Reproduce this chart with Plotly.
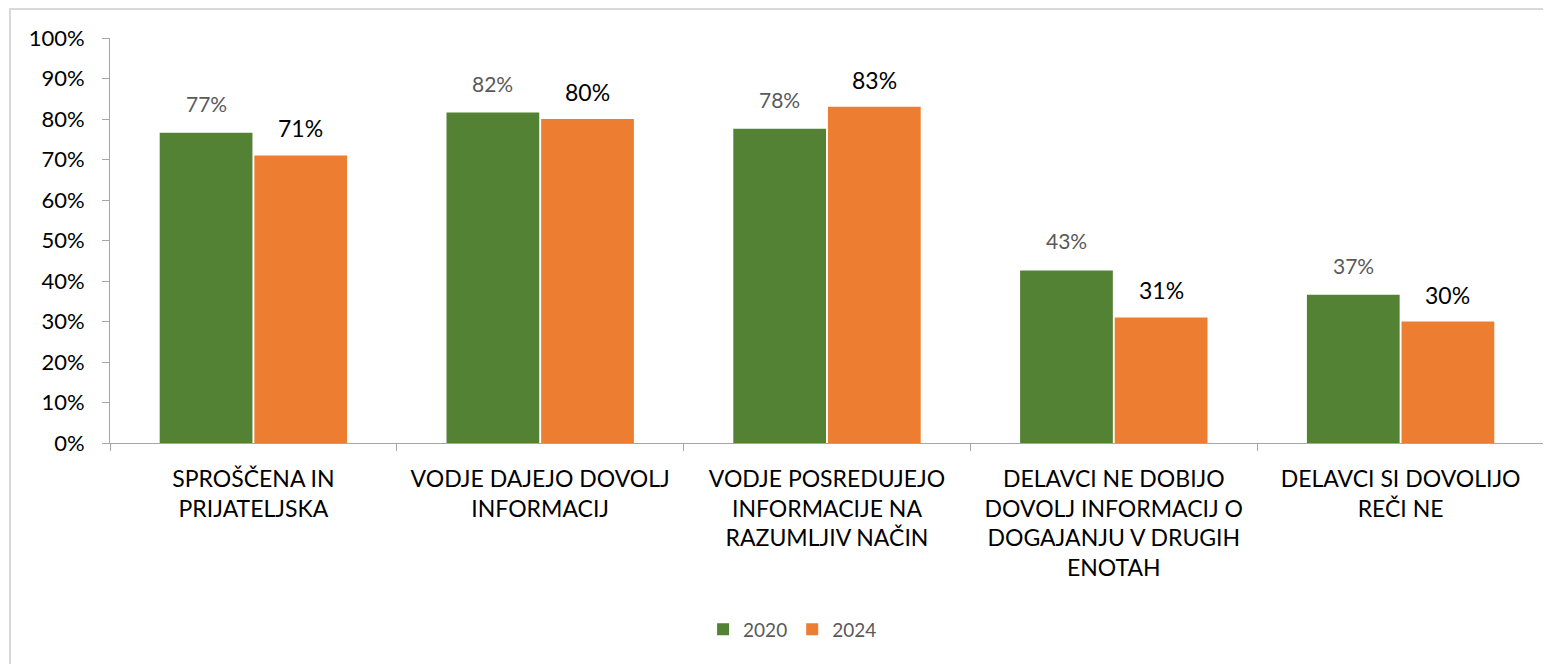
import plotly.graph_objects as go

categories = [
    "SPROŠČENA IN<br>PRIJATELJSKA",
    "VODJE DAJEJO DOVOLJ<br>INFORMACIJ",
    "VODJE POSREDUJEJO<br>INFORMACIJE NA<br>RAZUMLJIV NAČIN",
    "DELAVCI NE DOBIJO<br>DOVOLJ INFORMACIJ O<br>DOGAJANJU V DRUGIH<br>ENOTAH",
    "DELAVCI SI DOVOLIJO<br>REČI NE",
]
values_2020 = [0.766, 0.816, 0.776, 0.426, 0.366]
values_2024 = [0.71, 0.80, 0.83, 0.31, 0.30]
y_ticks = [0, 0.1, 0.2, 0.3, 0.4, 0.5, 0.6, 0.7, 0.8, 0.9, 1.0]

GREEN = "#548235"
ORANGE = "#ED7D31"
FONT = "Lato"

# the page body adds 8px around the figure
W, H = 1543, 656
M_L, M_R, M_T, M_B = 102, 7, 30, 221
BARGAP = 0.34
BARGROUPGAP = 0.02

fig = go.Figure()
fig.add_trace(go.Bar(name="2020", x=categories, y=values_2020,
                     marker=dict(color=GREEN, line=dict(width=0))))
fig.add_trace(go.Bar(name="2024", x=categories, y=values_2024,
                     marker=dict(color=ORANGE, line=dict(width=0))))

# data labels sit well above the bars, so they are drawn as annotations
cat_px = (W - M_L - M_R) / len(categories)
offset = cat_px * (1 - BARGAP) / 4
for cat, v20, v24 in zip(categories, values_2020, values_2024):
    fig.add_annotation(x=cat, y=v20, text=f"{round(v20 * 100)}%", showarrow=False,
                       xshift=-offset, yshift=15, yanchor="bottom",
                       font=dict(family=FONT, size=21, color="#595959"))
    fig.add_annotation(x=cat, y=v24, text=f"{round(v24 * 100)}%", showarrow=False,
                       xshift=offset, yshift=11, yanchor="bottom",
                       font=dict(family=FONT, size=23, color="#000000"))

# light outer frame of the chart
px_w = W - M_L - M_R
px_h = H - M_T - M_B
fig.add_shape(type="rect", xref="paper", yref="paper",
              x0=(2 - M_L) / px_w, x1=(W + 20 - M_L) / px_w,
              y0=-(H + 20 - M_T - px_h) / px_h, y1=1 + (M_T - 1) / px_h,
              line=dict(color="#D9D9D9", width=2), layer="below")

fig.update_layout(
    width=W, height=H,
    margin=dict(l=M_L, r=M_R, t=M_T, b=M_B),
    barmode="group", bargap=BARGAP, bargroupgap=BARGROUPGAP,
    plot_bgcolor="white", paper_bgcolor="white",
    font=dict(family=FONT, color="#000000"),
    legend=dict(orientation="h", x=0.476, xanchor="center", y=-0.46, yanchor="middle",
                font=dict(family=FONT, size=19, color="#595959"),
                itemwidth=30, traceorder="normal"),
    xaxis=dict(showline=True, linecolor="#A6A6A6", linewidth=1,
               ticks="outside", tickson="boundaries", ticklen=7, tickcolor="#A6A6A6",
               ticklabelstandoff=15,
               tickfont=dict(family=FONT, size=23, color="#000000"),
               showgrid=False, fixedrange=True),
    yaxis=dict(range=[0, 1], tickvals=y_ticks, tickformat=".0%",
               showline=True, linecolor="#A6A6A6", linewidth=1,
               ticks="outside", ticklen=7, tickcolor="#A6A6A6",
               ticklabelstandoff=13,
               tickfont=dict(family=FONT, size=22, color="#000000"),
               showgrid=False, zeroline=False),
)

fig.write_html("out.html")
